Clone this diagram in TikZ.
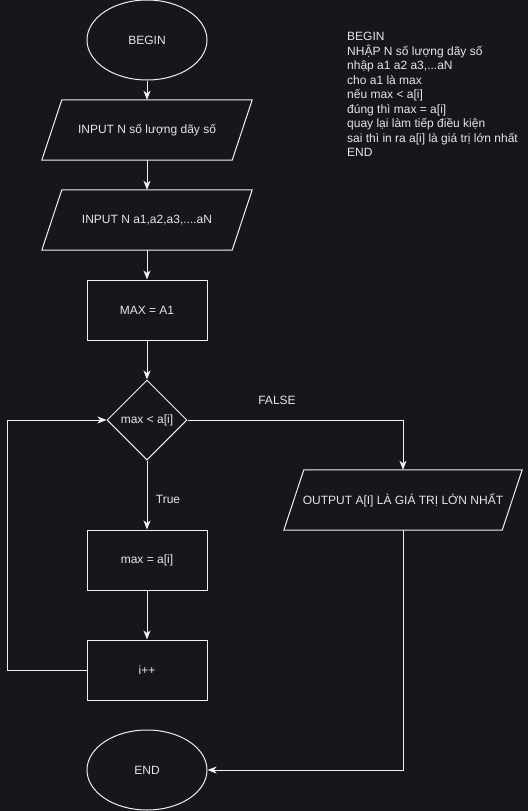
\documentclass[tikz,border=0pt]{standalone}
\usepackage{fontspec}
\setmainfont{Liberation Sans}
\usetikzlibrary{arrows.meta,shapes.geometric}
\definecolor{bg}{HTML}{18151D}
\definecolor{fg}{HTML}{F0F0F0}
\definecolor{tx}{HTML}{E6E6E6}
\newcommand{\drawparal}[1]{\draw[fg,line width=1pt] ([xshift=20pt]#1.north west) -- (#1.north east) -- ([xshift=-20pt]#1.south east) -- (#1.south west) -- cycle;}
\begin{document}
\begin{tikzpicture}[x=1pt,y=-1pt,
  every node/.style={font=\fontsize{12}{14.5}\selectfont, text=tx},
  term/.style={ellipse, draw=fg, line width=1pt, minimum width=120pt, minimum height=80pt, inner sep=0pt},
  procbox/.style={rectangle, draw=fg, line width=1pt, minimum width=120pt, minimum height=60pt, inner sep=0pt},
  iobox/.style={rectangle, draw=none, minimum height=60pt, inner sep=0pt},
  decis/.style={diamond, draw=fg, line width=1pt, minimum width=80pt, minimum height=80pt, inner sep=0pt, aspect=1},
  lbl/.style={inner sep=0pt},
  conn/.style={draw=fg, line width=1pt, -{Stealth[length=9pt,width=7pt,inset=2.5pt]}},
  plain/.style={draw=fg, line width=1pt}
]
\fill[bg] (0,0) rectangle (528,811);
\useasboundingbox (0,0) rectangle (528,811);

\node[term] (begin) at (147,40) {BEGIN};
\node[iobox, minimum width=210pt] (in1) at (147,130) {INPUT N số lượng dãy số};
\drawparal{in1}
\node[iobox, minimum width=210pt] (in2) at (147,220) {INPUT N a1,a2,a3,....aN};
\drawparal{in2}
\node[procbox] (maxa) at (147,310) {MAX = A1};
\node[decis] (dec) at (147,420) {max < a[i]};
\node[procbox] (setm) at (147,560) {max = a[i]};
\node[procbox] (inc) at (147,670) {i++};
\node[term] (end) at (147,770) {END};
\node[iobox, minimum width=238pt] (out) at (403,500) {OUTPUT A[I] LÀ GIÁ TRỊ LỚN NHẤT};
\drawparal{out}

\node[lbl] (false) at (277,400) {FALSE};
\node[lbl] (true) at (168,499) {True};

\coordinate (loopc) at (7,420);

\draw[conn] (begin) -- (in1);
\draw[conn] (in1) -- (in2);
\draw[conn] (in2) -- (maxa);
\draw[conn] (maxa) -- (dec);
\draw[conn] (dec) -- (setm);
\draw[conn] (setm) -- (inc);
\draw[conn] (inc.west) -| (loopc) -- (dec.west);
\draw[conn] (dec.east) -| (out.north);
\draw[conn] (out.south) |- (end.east);

\node[lbl, anchor=north west, align=left] (notes) at (347,32) {BEGIN\\NHẬP N số lượng dãy số\\nhập a1 a2 a3,...aN\\cho a1 là max\\nếu max < a[i]\\đúng thì max = a[i]\\quay lại làm tiếp điều kiện\\sai thì in ra a[i] là giá trị lớn nhất\\END};
\end{tikzpicture}
\end{document}
